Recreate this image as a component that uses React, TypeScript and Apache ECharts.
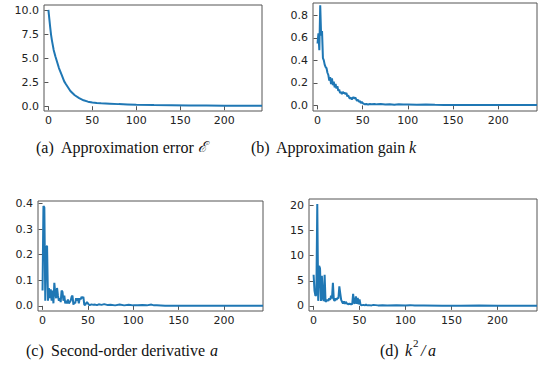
import React, { useEffect, useRef } from "react";
import * as echarts from "echarts";

// (a) Approximation error
const errX = [0, 1, 2, 3, 4, 5, 6, 8, 10, 12, 15, 18, 20, 25, 30, 35, 40, 45, 50, 55, 60, 70, 80, 90, 100, 120, 140, 160, 180, 200, 220, 243];
const errY = [10.1, 9.2, 8.3, 7.5, 6.9, 6.4, 5.9, 5.2, 4.6, 4.0, 3.3, 2.6, 2.3, 1.6, 1.15, 0.85, 0.62, 0.48, 0.4, 0.34, 0.3, 0.26, 0.22, 0.19, 0.16, 0.12, 0.1, 0.08, 0.07, 0.06, 0.05, 0.05];

// (b) Approximation gain k
const gainX = [0, 1, 2, 3, 4, 5, 6, 7, 8, 9, 10, 11, 12, 13, 14, 15, 16, 17, 18, 19, 20, 21, 22, 23, 24, 25, 26, 27, 28, 29, 30, 31, 32, 33, 34, 35, 36, 37, 38, 39, 40, 41, 42, 43, 44, 45, 46, 47, 48, 49, 50, 51, 52, 54, 56, 58, 60, 63, 66, 70, 75, 80, 85, 90, 95, 100, 110, 120, 130, 140, 160, 180, 200, 220, 243];
const gainY = [0.55, 0.64, 0.49, 0.89, 0.62, 0.66, 0.42, 0.4, 0.36, 0.34, 0.33, 0.29, 0.27, 0.22, 0.25, 0.19, 0.24, 0.18, 0.21, 0.16, 0.19, 0.15, 0.17, 0.13, 0.14, 0.11, 0.12, 0.1, 0.12, 0.11, 0.11, 0.1, 0.11, 0.08, 0.09, 0.07, 0.06, 0.07, 0.05, 0.07, 0.07, 0.06, 0.07, 0.05, 0.04, 0.05, 0.03, 0.04, 0.02, 0.03, 0.02, 0.015, 0.01, 0.012, 0.008, 0.012, 0.01, 0.013, 0.009, 0.012, 0.008, 0.01, 0.006, 0.009, 0.007, 0.008, 0.006, 0.007, 0.005, 0.004, 0.004, 0.003, 0.003, 0.003, 0.003];

// (c) Second-order derivative a
const derivX = [0, 1, 2, 3, 4, 5, 6, 7, 8, 9, 10, 11, 12, 13, 14, 15, 16, 17, 18, 19, 20, 21, 22, 23, 24, 25, 26, 27, 28, 29, 30, 31, 32, 33, 34, 35, 36, 37, 38, 39, 40, 41, 42, 43, 44, 45, 46, 47, 48, 49, 50, 51, 52, 54, 56, 58, 60, 62, 65, 68, 72, 75, 80, 85, 90, 95, 100, 105, 110, 115, 120, 123, 126, 135, 150, 170, 200, 243];
const derivY = [0.06, 0.39, 0.385, 0.02, 0.23, 0.235, 0.02, 0.07, 0.03, 0.065, 0.02, 0.06, 0.01, 0.09, 0.05, 0.03, 0.07, 0.04, 0.02, 0.03, 0.015, 0.06, 0.055, 0.02, 0.04, 0.01, 0.02, 0.01, 0.025, 0.01, 0.015, 0.02, 0.035, 0.04, 0.005, 0.015, 0.01, 0.03, 0.02, 0.03, 0.01, 0.03, 0.025, 0.035, 0.03, 0.035, 0.005, 0.003, 0.01, 0.015, 0.01, 0.005, 0.003, 0.006, 0.004, 0.005, 0.003, 0.006, 0.004, 0.007, 0.003, 0.004, 0.002, 0.005, 0.002, 0.004, 0.002, 0.002, 0.003, 0.002, 0.005, 0.002, 0.002, 0.001, 0.001, 0.001, 0.001, 0.001];

// (d) k^2 / a
const ratioX = [0, 1, 2, 3, 4, 5, 6, 7, 8, 9, 10, 11, 12, 13, 14, 15, 16, 17, 18, 19, 20, 21, 22, 23, 24, 25, 26, 27, 28, 29, 30, 31, 32, 33, 34, 35, 36, 37, 38, 39, 40, 41, 42, 43, 44, 45, 46, 47, 48, 49, 50, 51, 52, 54, 56, 57, 58, 60, 63, 65, 70, 75, 80, 90, 100, 105, 110, 120, 140, 160, 180, 200, 243];
const ratioY = [6.2, 3.0, 2.0, 2.2, 20.3, 1.0, 8.0, 7.5, 1.0, 6.0, 1.5, 1.0, 6.2, 0.8, 1.0, 1.2, 1.0, 1.5, 1.2, 2.0, 1.5, 4.6, 1.2, 1.0, 1.5, 1.2, 1.6, 1.5, 3.9, 2.5, 1.2, 0.8, 0.5, 0.9, 0.4, 0.8, 0.5, 0.4, 0.3, 0.5, 0.3, 0.4, 0.3, 2.4, 0.6, 0.5, 1.9, 0.4, 1.6, 0.3, 1.3, 0.3, 0.1, 0.2, 0.1, 0.3, 0.1, 0.15, 0.1, 0.2, 0.1, 0.15, 0.08, 0.15, 0.08, 0.15, 0.06, 0.08, 0.05, 0.05, 0.06, 0.04, 0.04];

const xTicks = [0, 50, 100, 150, 200];
const errTicks = [0, 2.5, 5, 7.5, 10];
const gainTicks = [0, 0.2, 0.4, 0.6, 0.8];
const derivTicks = [0, 0.1, 0.2, 0.3, 0.4];
const ratioTicks = [0, 5, 10, 15, 20];

const LINE = "#1f77b4";
const AX = "#555";
const LBL = "#222";

function pairs(xs: number[], ys: number[]) {
  return xs.map((x, i) => [x, ys[i]]);
}

export default function App() {
  const ref = useRef<HTMLDivElement>(null);
  useEffect(() => {
    document.body.style.margin = "0";
    const chart = echarts.init(ref.current!, null, { renderer: "svg" });
    const grids = [
      { left: 44, top: 5, width: 218, height: 106 },
      { left: 313, top: 3, width: 224, height: 108 },
      { left: 38, top: 201, width: 225, height: 110 },
      { left: 309, top: 199, width: 228, height: 112 },
    ];
    const yDefs = [
      { min: -0.5, max: 10.6, ticks: errTicks, fmt: (v: number) => v.toFixed(1) },
      { min: -0.05, max: 0.91, ticks: gainTicks, fmt: (v: number) => v.toFixed(1) },
      { min: -0.02, max: 0.41, ticks: derivTicks, fmt: (v: number) => v.toFixed(1) },
      { min: -1.02, max: 21.3, ticks: ratioTicks, fmt: (v: number) => String(Math.round(v)) },
    ];
    const seriesData = [
      pairs(errX, errY),
      pairs(gainX, gainY),
      pairs(derivX, derivY),
      pairs(ratioX, ratioY),
    ];
    const captionFont = "'Liberation Serif', 'DejaVu Serif', serif";
    const FS = 16;
    const txt = (x: number, y: number, text: string, extra: any = {}) => ({
      type: "text",
      x,
      y,
      style: {
        text,
        fontFamily: captionFont,
        fontSize: FS,
        fill: "#111",
        verticalAlign: "middle",
        ...extra,
      },
    });
    const italic = { fontStyle: "italic" };
    chart.setOption({
      animation: false,
      grid: grids.map((g) => ({ ...g, show: true, borderColor: AX, borderWidth: 1, backgroundColor: "transparent" })),
      xAxis: grids.map((_, i) => ({
        type: "value",
        gridIndex: i,
        min: -5,
        max: 243,
        splitLine: { show: false },
        axisLine: { show: false },
        axisTick: { show: true, inside: false, length: 4, lineStyle: { color: AX }, customValues: xTicks },
        axisLabel: {
          customValues: xTicks,
          fontFamily: "'DejaVu Sans', sans-serif",
          fontSize: 11,
          color: LBL,
          margin: 4,
        },
      })),
      yAxis: yDefs.map((d, i) => ({
        type: "value",
        gridIndex: i,
        min: d.min,
        max: d.max,
        splitLine: { show: false },
        axisLine: { show: false },
        axisTick: { show: true, inside: false, length: 4, lineStyle: { color: AX }, customValues: d.ticks },
        axisLabel: {
          customValues: d.ticks,
          formatter: d.fmt,
          fontFamily: "'DejaVu Sans', sans-serif",
          fontSize: 11,
          color: LBL,
          margin: 5,
        },
      })),
      series: seriesData.map((data, i) => ({
        type: "line",
        xAxisIndex: i,
        yAxisIndex: i,
        data,
        showSymbol: false,
        symbol: "none",
        lineStyle: { color: LINE, width: 2 },
        clip: true,
      })),
      graphic: [
        txt(36, 147, "(a)"),
        txt(61, 147, "Approximation error"),
        txt(198, 147, "ℰ", { fontFamily: "'DejaVu Serif', serif", fontStyle: "italic", fontSize: 15 }),
        txt(251, 147, "(b)"),
        txt(276, 147, "Approximation gain"),
        txt(409, 147, "k", italic),
        txt(26, 350, "(c)"),
        txt(51, 350, "Second-order derivative"),
        txt(210, 350, "a", italic),
        txt(380, 350, "(d)"),
        txt(405, 350, "k", italic),
        txt(413, 343, "2", { fontSize: 11 }),
        txt(421, 350, "/", italic),
        txt(428, 350, "a", italic),
      ],
    });
    return () => chart.dispose();
  }, []);
  return <div ref={ref} style={{ width: 545, height: 373 }} />;
}
